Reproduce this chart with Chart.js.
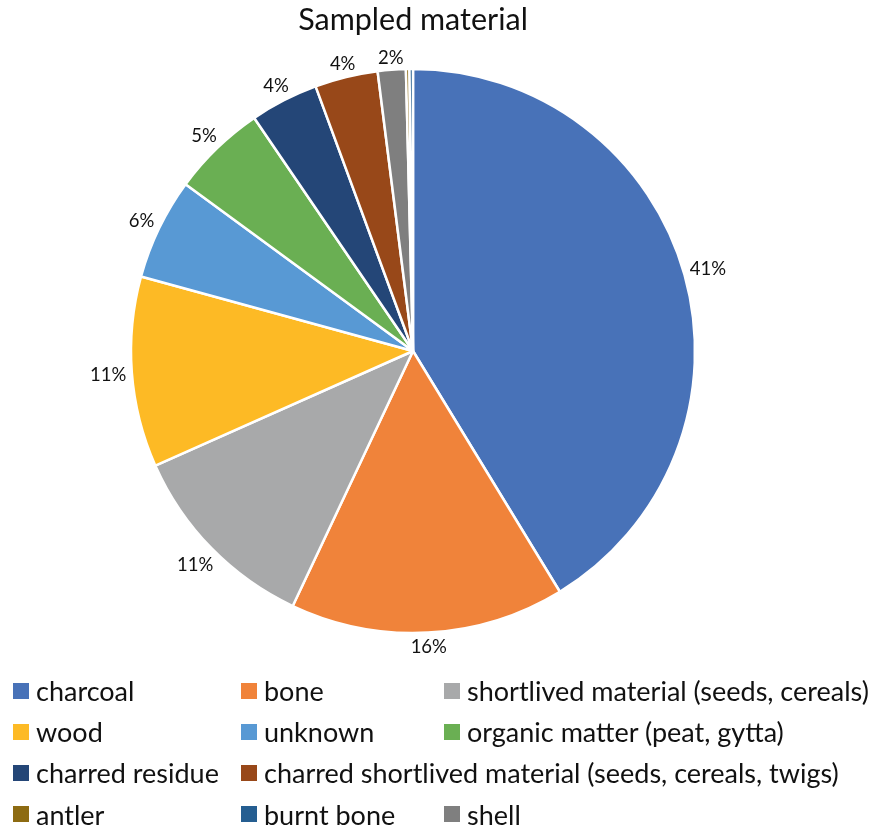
<!DOCTYPE html>
<html>
<head>
<meta charset="utf-8">
<script src="https://cdn.jsdelivr.net/npm/chart.js@4/dist/chart.umd.min.js"></script>
<style>
  html, body { margin: 0; padding: 0; background: #ffffff; }
  #wrap { position: relative; width: 878px; height: 828px; overflow: hidden; }
  #pie { position: absolute; left: 0; top: 0; }
  #legend {
    position: absolute; left: 13px; top: 670px;
    display: grid; grid-template-columns: 228px 203px 430px;
    grid-auto-rows: 41.2px;
    font-family: Lato, "Open Sans", sans-serif; font-size: 27px; color: #111;
  }
  .item { display: flex; align-items: center; white-space: nowrap; }
  .box { width: 16px; height: 16px; margin-right: 7px; flex: none; }
</style>
</head>
<body>
<div id="wrap">
  <canvas id="pie" width="878" height="780"></canvas>
  <div id="legend"></div>
</div>
<script>
// Sampled material, share of samples (%), in the order the slices run clockwise from 12 o'clock
const categories = [
  'charcoal', 'bone', 'shortlived material (seeds, cereals)', 'wood', 'unknown',
  'organic matter (peat, gytta)', 'charred residue',
  'charred shortlived material (seeds, cereals, twigs)', 'shell', 'antler', 'burnt bone'
];
const shares = [41.2, 15.7, 11.3, 10.9, 5.8, 5.4, 3.9, 3.6, 1.6, 0.2, 0.2];
const sliceColors = [
  '#4872B8', '#F0833A', '#A8A9AA', '#FDBA25', '#5899D4', '#6AAF53',
  '#244677', '#984819', '#7F7F7F', '#8D6B12', '#255E91'
];
// order of the entries in the key below the pie
const legendOrder = [
  'charcoal', 'bone', 'shortlived material (seeds, cereals)', 'wood', 'unknown',
  'organic matter (peat, gytta)', 'charred residue',
  'charred shortlived material (seeds, cereals, twigs)', 'antler', 'burnt bone', 'shell'
];

// percentage labels just outside each slice
const outsideLabels = {
  id: 'outsideLabels',
  afterDatasetsDraw(chart) {
    const ctx = chart.ctx;
    const meta = chart.getDatasetMeta(0);
    const data = chart.data.datasets[0].data;
    const total = data.reduce((a, b) => a + b, 0);
    ctx.save();
    ctx.font = '18.5px Lato, "Open Sans", sans-serif';
    ctx.fillStyle = '#111';
    ctx.textAlign = 'center';
    ctx.textBaseline = 'middle';
    meta.data.forEach((arc, i) => {
      const pct = Math.round(data[i] / total * 100);
      if (pct < 1) return;
      const text = pct + '%';
      const mid = (arc.startAngle + arc.endAngle) / 2;
      const w = ctx.measureText(text).width;
      const c = Math.cos(mid), s = Math.sin(mid);
      const r = arc.outerRadius + 5 + Math.abs(c) * w / 2 + Math.abs(s) * 7;
      ctx.fillText(text, arc.x + c * r, arc.y + s * r + 1);
    });
    ctx.restore();
  }
};

const chart = new Chart(document.getElementById('pie'), {
  type: 'pie',
  data: {
    labels: categories,
    datasets: [{
      data: shares,
      backgroundColor: sliceColors,
      borderColor: '#ffffff',
      borderWidth: 2.5,
      radius: 282
    }]
  },
  options: {
    responsive: false,
    animation: false,
    layout: { padding: { left: 0, right: 52, top: 0, bottom: 120.6 } },
    plugins: {
      legend: { display: false },
      tooltip: { enabled: false },
      title: {
        display: true,
        text: 'Sampled material',
        color: '#111',
        font: { family: 'Lato, "Open Sans", sans-serif', size: 30.5, weight: 'normal', lineHeight: 1.2 },
        padding: { top: 2, bottom: 4 },
        align: 'center'
      }
    }
  },
  plugins: [outsideLabels]
});

// key below the pie, built from the chart's own legend items
const items = chart.options.plugins.legend.labels.generateLabels(chart);
items.sort((a, b) => legendOrder.indexOf(a.text) - legendOrder.indexOf(b.text));
const legendEl = document.getElementById('legend');
items.forEach(it => {
  const d = document.createElement('div');
  d.className = 'item';
  if (it.text.indexOf('twigs') >= 0) d.style.gridColumn = '2 / 4';
  const b = document.createElement('span');
  b.className = 'box';
  b.style.background = it.fillStyle;
  const t = document.createElement('span');
  t.textContent = it.text;
  d.appendChild(b); d.appendChild(t);
  legendEl.appendChild(d);
});
</script>
</body>
</html>
